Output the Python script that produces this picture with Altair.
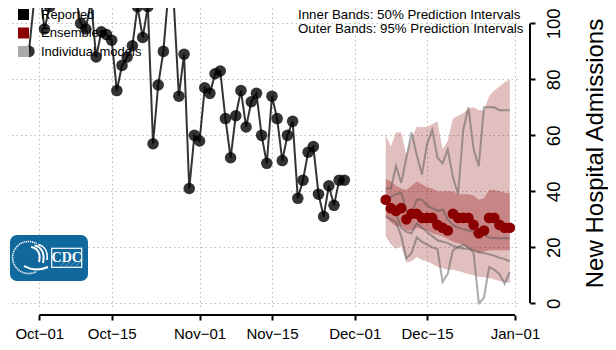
import altair as alt
import pandas as pd
from urllib.parse import quote

FONT = "Liberation Sans"

# ---------------- data ----------------
reported_start = "2020-09-29"
reported_values = [90, 108, 114, 98, 106, 112, 117, 111, 115, 110,
                   100, 98, 108, 88, 97, 96, 94, 76, 85, 88,
                   92, 106, 95, 106, 57, 78, 90, 112, 108, 74,
                   89, 41, 60, 58, 77, 75, 82, 83, 66, 52,
                   67, 76, 63, 72, 75, 60, 50, 74, 66, 51,
                   60, 65, 37.5, 44, 54, 56, 39, 31, 42, 35,
                   44, 44]

forecast_start = "2020-12-07"
ensemble_median = [37, 34, 33, 34, 30, 32, 32, 30.5, 30.5, 30.5,
                   28, 27, 26, 32, 30.5, 30.5, 30.5, 28, 25, 26,
                   30.5, 30.5, 28, 27, 27]
pi95_upper = [60, 56, 61, 61, 53, 59, 63, 63, 63, 64,
              65, 55, 58, 66, 67, 68, 69.5, 70, 69, 69,
              74, 76, 77.5, 79, 80]
pi95_lower = [24, 21, 19.5, 20.5, 14.5, 15, 16.5, 15.5, 15, 14,
              13, 12.5, 12, 12, 11.5, 11, 10.5, 10, 9.5, 9.3,
              9, 8.5, 8, 7.6, 7.3]
pi50_upper = [44.5, 43.5, 42, 41, 40.5, 42, 43.5, 42.5, 41.5, 41,
              40, 40, 40, 40, 39, 39, 39, 38.5, 37, 37.5,
              40.5, 40.5, 40, 39.5, 39.5]
pi50_lower = [31, 29, 27.5, 27.5, 26, 26, 27, 26.5, 26, 25,
              24.5, 24, 23, 22, 21.5, 21, 20, 19, 18, 18.5,
              19, 19, 19, 19, 19]

model_1 = [41, 41, 49, 43, 52, 61, 53, 46, 57, 62,
           52, 50, 55, 45, 39, 62, 70, 55, 49, 70,
           70, 70, 69, 69, 69]
model_2 = [38, 38, 39, 39.5, 33, 32, 37, 37, 35, 34,
           33, 33.5, 30, 28, 27, 26.5, 26, 25.5, 25, 24.5,
           23.5, 23.3, 23.2, 23.2, 23.2]
model_3 = [33.5, 33, 32, 27, 25.5, 25, 28.5, 27, 25.5, 24,
           22.5, 22, 21.5, 20.5, 20, 19.5, 19.5, 19, 18.2, 18,
           17.5, 17, 16.3, 15.8, 15]
model_4 = [31, 30, 29, 24, 16, 18, 23.5, 22, 21, 20,
           19.4, 7.6, 10.6, 19, 20, 21, 20, 18, 0, 2,
           13, 12, 10.5, 7, 11.2]

tick_dates = ["2020-10-01", "2020-10-15", "2020-11-01", "2020-11-15",
              "2020-12-01", "2020-12-15", "2021-01-01"]
tick_labels = ["Oct\u221201", "Oct\u221215", "Nov\u221201", "Nov\u221215",
               "Dec\u221201", "Dec\u221215", "Jan\u221201"]
y_ticks = [0, 20, 40, 60, 80, 100]

legend_labels = ["Reported", "Ensembles", "Individual models"]
legend_colors = ["#000000", "#8B0000", "#A9A9A9"]

note_text = "Inner Bands: 50% Prediction Intervals\nOuter Bands: 95% Prediction Intervals"

# ---------------- tables ----------------
origin = pd.Timestamp(tick_dates[0])


def to_day(dates):
    return [(pd.Timestamp(d) - origin).days for d in dates]


rep_dates = pd.date_range(reported_start, periods=len(reported_values))
rep = pd.DataFrame({"day": to_day(rep_dates), "value": reported_values,
                    "series": "Reported"})

fc_dates = pd.date_range(forecast_start, periods=len(ensemble_median))
fc = pd.DataFrame({"day": to_day(fc_dates), "median": ensemble_median,
                   "lo95": pi95_lower, "hi95": pi95_upper,
                   "lo50": pi50_lower, "hi50": pi50_upper,
                   "series": "Ensembles"})

models = pd.concat([
    pd.DataFrame({"day": to_day(fc_dates), "value": vals, "model": name})
    for name, vals in [("m1", model_1), ("m2", model_2),
                       ("m3", model_3), ("m4", model_4)]
])

tick_days = to_day(tick_dates)

# ---------------- layout ----------------
PW, PH = 509, 302
x_scale = alt.Scale(domain=[-6.05, 92.39], nice=False, zero=False)
y_scale = alt.Scale(domain=[-2.39, 105.5], nice=False, zero=False)

label_expr = " : ".join(
    f"datum.value == {d} ? '{l}'" for d, l in zip(tick_days, tick_labels)
) + " : ''"

grid_kw = dict(grid=True, gridDash=[1.5, 3], gridColor="#bdbdbd", gridWidth=1)

x_axis = alt.Axis(values=tick_days, labelExpr=label_expr, domain=False,
                  ticks=True, tickSize=5, tickWidth=2, tickColor="black",
                  offset=5, labelFontSize=15, labelFont=FONT, labelColor="black",
                  labelPadding=6, labelFlush=False, labelOverlap=False,
                  title=None, **grid_kw)

y_axis = alt.Axis(orient="right", values=y_ticks, domain=False, ticks=True,
                  tickSize=5, tickWidth=2, tickColor="black", offset=13,
                  labelAngle=270, labelAlign="center", labelBaseline="top",
                  labelFontSize=18.5, labelFont=FONT, labelColor="black",
                  labelPadding=9, labelFlush=False, labelOverlap=False,
                  title="New Hospital Admissions", titleAngle=270,
                  titleFontSize=24, titleFontWeight="normal", titleFont=FONT,
                  titleColor="black", titleX=72, titleY=145,
                  titleAlign="center", titleBaseline="alphabetic", **grid_kw)


def X(field="day"):
    return alt.X(f"{field}:Q", scale=x_scale, axis=x_axis)


def Y(field):
    return alt.Y(f"{field}:Q", scale=y_scale, axis=y_axis)


color_scale = alt.Scale(domain=legend_labels, range=legend_colors)
legend = alt.Legend(orient="none", legendX=9, legendY=0, title=None,
                    direction="vertical", symbolType="square", symbolSize=121,
                    symbolStrokeWidth=0, symbolOpacity=1, labelFontSize=13,
                    labelFont=FONT, labelColor="black", rowPadding=4.5,
                    padding=0, labelOffset=11)

band95 = alt.Chart(fc).mark_area(color="#8B0000", opacity=0.25).encode(
    x=X(), y=Y("lo95"), y2="hi95:Q")
band50 = alt.Chart(fc).mark_area(color="#8B0000", opacity=0.3).encode(
    x=X(), y=Y("lo50"), y2="hi50:Q")
model_lines = alt.Chart(models).mark_line(
    color="#555555", opacity=0.5, strokeWidth=2).encode(
    x=X(), y=Y("value"), detail="model:N")
rep_line = alt.Chart(rep).mark_line(
    color="black", opacity=0.8, strokeWidth=2, clip=True).encode(
    x=X(), y=Y("value"))
rep_pts = alt.Chart(rep).mark_circle(size=133, opacity=0.8, clip=True).encode(
    x=X(), y=Y("value"),
    color=alt.Color("series:N", scale=color_scale, legend=legend))
ens_pts = alt.Chart(fc).mark_circle(size=113, opacity=1).encode(
    x=X(), y=Y("median"),
    color=alt.Color("series:N", scale=color_scale, legend=legend))

# axis lines spanning first to last tick (R style)
x_rule = alt.Chart(pd.DataFrame({"day": [tick_days[0]], "day_end": [tick_days[-1]]})
                   ).mark_rule(color="black", strokeWidth=2, clip=False).encode(
    x=X(), x2="day_end:Q", y=alt.value(PH + 5))
y_rule = alt.Chart(pd.DataFrame({"v0": [y_ticks[0]], "v1": [y_ticks[-1]]})
                   ).mark_rule(color="black", strokeWidth=2, clip=False).encode(
    y=Y("v0"), y2="v1:Q", x=alt.value(PW + 13))

note = alt.Chart(pd.DataFrame({"t": [note_text]})).mark_text(
    align="left", baseline="alphabetic", fontSize=13.3, font=FONT,
    color="black", lineBreak="\n", lineHeight=13.3).encode(
    text="t:N", x=alt.value(290), y=alt.value(11.3))

# CDC logo (decoration)
logo_svg = (
    "<svg xmlns='http://www.w3.org/2000/svg' width='78' height='46' viewBox='0 0 78 46'>"
    "<rect x='0' y='0' width='78' height='46' rx='7' ry='7' fill='#11689d'/>"
    "<path d='M26.5 8.6 A16 16 0 1 0 26.5 36.4' fill='none' stroke='white' "
    "stroke-width='1.6' stroke-dasharray='1.2 0.7'/>"
    "<path d='M21 12 C28 13 31 19 29 27' fill='none' stroke='white' stroke-width='2'/>"
    "<path d='M24.5 10.5 C32 12 35 19 33 28' fill='none' stroke='white' stroke-width='2'/>"
    "<path d='M28 9.5 C35 11 38 17 37 25' fill='none' stroke='white' stroke-width='1.6'/>"
    "<path d='M14 31 C21 35 29 36 38 32' fill='none' stroke='white' stroke-width='2'/>"
    "<rect x='41.7' y='13.3' width='30' height='19' fill='none' stroke='white' stroke-width='1.2'/>"
    "<path d='M50 31.5 L55 27 M55 31.5 L60 27 M60 31.5 L65 27 M65 31.5 L70 27' "
    "stroke='#8fbbdb' stroke-width='0.6'/>"
    "</svg>")
logo_uri = "data:image/svg+xml;charset=utf-8," + quote(logo_svg)
logo = alt.Chart(pd.DataFrame({"u": [logo_uri]})).mark_image(
    width=78, height=46, align="left", baseline="top").encode(
    x=alt.value(2), y=alt.value(227), url="u:N")
logo_text = alt.Chart(pd.DataFrame({"t": ["CDC"]})).mark_text(
    font="Liberation Serif", fontWeight="bold", fontSize=14, color="white",
    align="center", baseline="middle").encode(
    text="t:N", x=alt.value(58.7), y=alt.value(249.5))

chart = alt.layer(
    band95, band50, model_lines, rep_line, rep_pts, ens_pts,
    x_rule, y_rule, note, logo, logo_text
).properties(
    width=PW, height=PH,
    autosize=alt.AutoSizeParams(type="none"),
    padding={"left": 0, "top": 0, "right": 91, "bottom": 32},
    background="white",
).configure(font=FONT).configure_view(stroke=None)

chart.save("out.html", embed_options={"renderer": "svg", "actions": False})
